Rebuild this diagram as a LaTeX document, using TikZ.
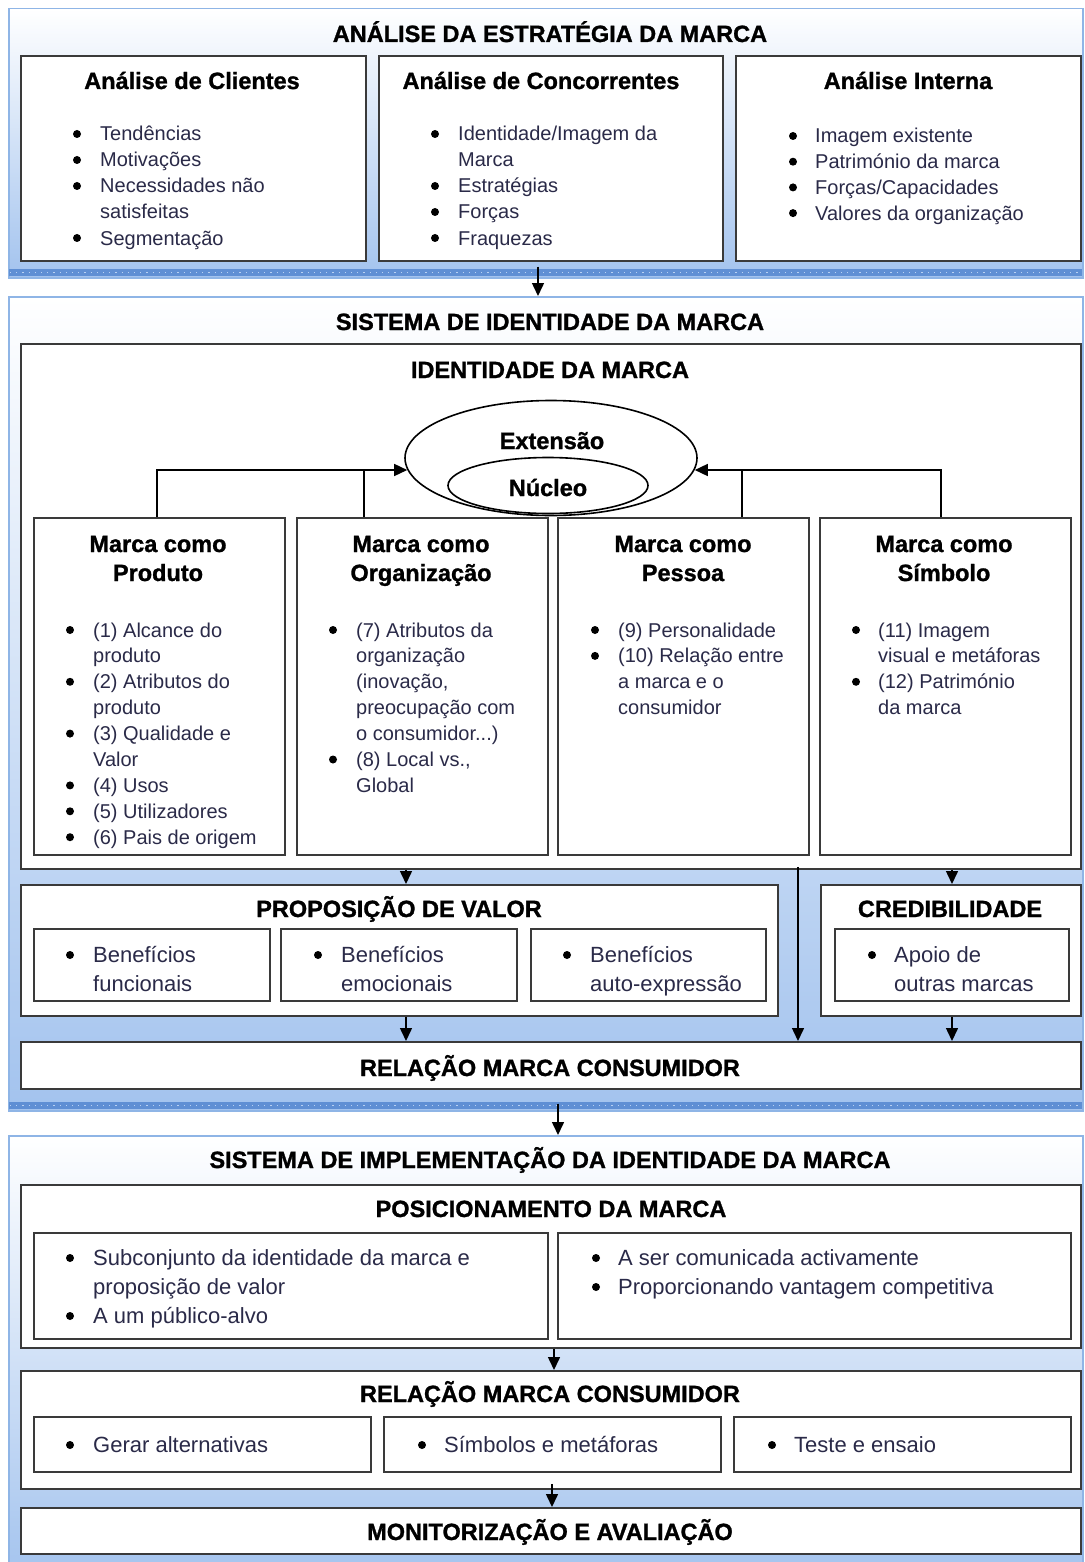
\documentclass[tikz,border=0pt]{standalone}
\usepackage{fontspec}
\setmainfont{Liberation Sans}[BoldFeatures={FakeBold=1.2}]
\usetikzlibrary{arrows.meta,shapes.geometric}
\definecolor{pborder}{HTML}{8FB5E6}
\definecolor{pfill}{HTML}{A3C3EE}
\definecolor{stripc}{HTML}{5F8FD4}
\definecolor{stripd}{HTML}{B9D1F2}
\definecolor{boxc}{HTML}{3A3A3A}
\definecolor{txtc}{HTML}{2A2A48}
\tikzset{
 panel/.style={draw=pborder, line width=1.5pt, top color=white, bottom color=pfill, anchor=north west, inner sep=0pt},
 boxst/.style={draw=boxc, line width=1.8pt, fill=white, anchor=north west, inner sep=0pt},
 hdr/.style={font=\fontsize{23.5}{28}\selectfont\bfseries, text=black, anchor=base, inner sep=0pt},
 bodya/.style={font=\fontsize{20}{26}\selectfont, text=txtc, inner sep=0pt},
 bodyb/.style={font=\fontsize{22}{29}\selectfont, text=txtc, inner sep=0pt},
 arr/.style={line width=1.5pt, -{Triangle[length=13pt,width=12pt]}},
 lnk/.style={line width=1.5pt},
 ell/.style={draw=black, line width=1.6pt, ellipse, inner sep=0pt},
}
\newcommand\threedots{...}
% #1 name, #2 style, #3 bullet x, #4 text x, #5 first baseline, #6 step, #7 items
\newcommand\blist[7]{%
  \foreach[count=\i] \f/\t in {#7}{%
    \pgfmathsetmacro\yy{#5+(\i-1)*#6}%
    \node[#2, anchor=base west] (#1\i) at (#4,\yy) {\t};
    \if\f b\fill[black] (#3,\yy-7) circle (4);\fi
  }}
\newcommand\boxat[6]{\node[#1, minimum width=#5, minimum height=#6] (#2) at (#3,#4) {};}
\begin{document}
\begin{tikzpicture}[x=1pt,y=-1pt]
\useasboundingbox (0,0) rectangle (1084,1562);
\clip (0,0) rectangle (1084,1562);
\fill[white] (0,0) rectangle (1084,1562);

% ---------------- Panel 1
\boxat{panel}{p1}{8}{8}{1074}{269}
\fill[stripc] (9,269) rectangle (1082,276);
\draw[stripd, line width=1.2pt, dash pattern=on 1.2pt off 5pt] (10,272.5) -- (1082,272.5);
\node[hdr] (t1) at (550,42) {ANÁLISE DA ESTRATÉGIA DA MARCA};
\boxat{boxst}{cl}{20}{55}{345}{205}
\boxat{boxst}{co}{378}{55}{344}{205}
\boxat{boxst}{in}{735}{55}{345}{205}
\node[hdr] (tcl) at (192,89) {Análise de Clientes};
\node[hdr] (tco) at (541,89) {Análise de Concorrentes};
\node[hdr] (tin) at (908,89) {Análise Interna};
\blist{lcl}{bodya}{77}{100}{141}{26}{b/Tendências, b/Motivações, b/Necessidades não, c/satisfeitas, b/Segmentação}
\blist{lco}{bodya}{435}{458}{141}{26}{b/{Identidade/Imagem da}, c/Marca, b/Estratégias, b/Forças, b/Fraquezas}
\blist{lin}{bodya}{793}{815}{143}{25.7}{b/Imagem existente, b/Património da marca, b/{Forças/Capacidades}, b/Valores da organização}

% ---------------- Panel 2
\boxat{panel}{p2}{8}{296}{1074}{814}
\fill[stripc] (9,1102) rectangle (1082,1109);
\draw[stripd, line width=1.2pt, dash pattern=on 1.2pt off 5pt] (10,1105.5) -- (1082,1105.5);
\node[hdr] (t2) at (550,330) {SISTEMA DE IDENTIDADE DA MARCA};
\boxat{boxst}{idb}{20}{343}{1060}{525}
\node[hdr] (tid) at (550,378) {IDENTIDADE DA MARCA};

\node[ell, minimum width=292, minimum height=115] (ext) at (551,458) {};
\node[ell, minimum width=200, minimum height=56] (nuc) at (548,485.5) {};
\node[hdr] (text) at (552,449) {Extensão};
\node[hdr] (tnuc) at (548,496) {Núcleo};

\boxat{boxst}{prod}{33}{517}{251}{337}
\boxat{boxst}{org}{296}{517}{251}{337}
\boxat{boxst}{pes}{557}{517}{251}{337}
\boxat{boxst}{sym}{819}{517}{251}{337}
\node[hdr] (tp1) at (158,552) {Marca como};
\node[hdr] (tp2) at (158,581) {Produto};
\node[hdr] (to1) at (421,552) {Marca como};
\node[hdr] (to2) at (421,581) {Organização};
\node[hdr] (te1) at (683,552) {Marca como};
\node[hdr] (te2) at (683,581) {Pessoa};
\node[hdr] (ts1) at (944,552) {Marca como};
\node[hdr] (ts2) at (944,581) {Símbolo};
\blist{lpr}{bodya}{70}{93}{637}{25.9}{b/(1) Alcance do, c/produto, b/(2) Atributos do, c/produto, b/(3) Qualidade e, c/Valor, b/(4) Usos, b/(5) Utilizadores, b/(6) Pais de origem}
\blist{lor}{bodya}{333}{356}{637}{25.9}{b/(7) Atributos da, c/organização, c/{(inovação,}, c/preocupação com, c/{o consumidor\threedots)}, b/{(8) Local vs.,}, c/Global}
\blist{lpe}{bodya}{595}{618}{637}{25.9}{b/(9) Personalidade, b/(10) Relação entre, c/a marca e o, c/consumidor}
\blist{lsy}{bodya}{856}{878}{637}{25.9}{b/(11) Imagem, c/visual e metáforas, b/(12) Património, c/da marca}

\coordinate (hl) at ([xshift=3pt,yshift=-12pt]ext.west);
\coordinate (hr) at ([xshift=-3pt,yshift=-12pt]ext.east);
\coordinate (xq) at (157,0);
\coordinate (xo) at (364,0);
\coordinate (xp) at (742,0);
\coordinate (xs) at (941,0);
\draw[arr] (prod.north -| xq) |- (hl);
\draw[lnk] (org.north -| xo) -- (hl -| xo);
\draw[arr] (sym.north -| xs) |- (hr);
\draw[lnk] (pes.north -| xp) -- (hr -| xp);

\boxat{boxst}{prop}{20}{884}{757}{131}
\node[hdr] (tpv) at (399,917) {PROPOSIÇÃO DE VALOR};
\boxat{boxst}{pv1}{33}{928}{236}{72}
\boxat{boxst}{pv2}{280}{928}{236}{72}
\boxat{boxst}{pv3}{530}{928}{235}{72}
\blist{lv1}{bodyb}{70}{93}{962}{29}{b/Benefícios, c/funcionais}
\blist{lv2}{bodyb}{318}{341}{962}{29}{b/Benefícios, c/emocionais}
\blist{lv3}{bodyb}{567}{590}{962}{29}{b/Benefícios, c/auto-expressão}

\boxat{boxst}{cred}{820}{884}{260}{131}
\node[hdr] (tcr) at (950,917) {CREDIBILIDADE};
\boxat{boxst}{cr1}{834}{928}{234}{72}
\blist{lc1}{bodyb}{872}{894}{962}{29}{b/Apoio de, c/outras marcas}

\boxat{boxst}{rel1}{20}{1041}{1060}{47}
\node[hdr] (tr1) at (550,1076) {RELAÇÃO MARCA CONSUMIDOR};

\coordinate (xa) at (406,0);
\coordinate (xb) at (952,0);
\coordinate (xc) at (798,0);
\draw[arr] (idb.south -| xa) -- (prop.north -| xa);
\draw[arr] (idb.south -| xb) -- (cred.north -| xb);
\draw[arr] ([yshift=3pt]idb.south -| xc) -- (rel1.north -| xc);
\draw[arr] (prop.south -| xa) -- (rel1.north -| xa);
\draw[arr] (cred.south -| xb) -- (rel1.north -| xb);

% ---------------- Panel 3
\boxat{panel}{p3}{8}{1135}{1074}{445}
\node[hdr] (t3) at (550,1168) {SISTEMA DE IMPLEMENTAÇÃO DA IDENTIDADE DA MARCA};
\boxat{boxst}{pos}{20}{1184}{1060}{163}
\node[hdr] (tpo) at (551,1217) {POSICIONAMENTO DA MARCA};
\boxat{boxst}{ps1}{33}{1232}{514}{106}
\boxat{boxst}{ps2}{557}{1232}{513}{106}
\blist{lps1}{bodyb}{70}{93}{1265}{29}{b/Subconjunto da identidade da marca e, c/proposição de valor, b/A um público-alvo}
\blist{lps2}{bodyb}{596}{618}{1265}{29}{b/A ser comunicada activamente, b/Proporcionando vantagem competitiva}

\boxat{boxst}{rel2}{20}{1370}{1060}{118}
\node[hdr] (tr2) at (550,1402) {RELAÇÃO MARCA CONSUMIDOR};
\boxat{boxst}{rs1}{33}{1416}{337}{55}
\boxat{boxst}{rs2}{383}{1416}{337}{55}
\boxat{boxst}{rs3}{733}{1416}{337}{55}
\blist{lr1}{bodyb}{70}{93}{1452}{29}{b/Gerar alternativas}
\blist{lr2}{bodyb}{422}{444}{1452}{29}{b/Símbolos e metáforas}
\blist{lr3}{bodyb}{772}{794}{1452}{29}{b/Teste e ensaio}

\boxat{boxst}{mon}{20}{1507}{1060}{46}
\node[hdr] (tmo) at (550,1540) {MONITORIZAÇÃO E AVALIAÇÃO};

\coordinate (xd) at (538,0);
\coordinate (xe) at (558,0);
\coordinate (xf) at (554,0);
\coordinate (xg) at (552,0);
\draw[arr] ([yshift=12pt]p1.south -| xd) -- (p2.north -| xd);
\draw[arr] ([yshift=8pt]p2.south -| xe) -- (p3.north -| xe);
\draw[arr] (pos.south -| xf) -- (rel2.north -| xf);
\draw[arr] ([yshift=6pt]rel2.south -| xg) -- (mon.north -| xg);
\end{tikzpicture}
\end{document}
